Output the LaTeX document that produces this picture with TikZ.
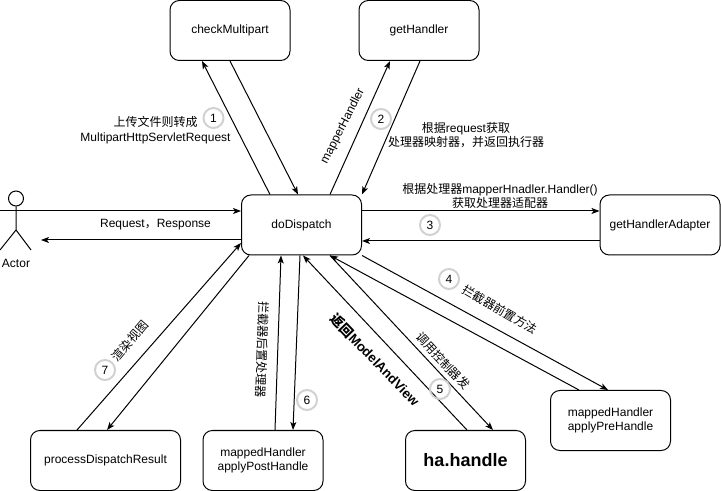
\documentclass[tikz,border=0pt]{standalone}
\usepackage{fontspec}
\setmainfont{Liberation Sans}
\newfontfamily\cjk{Noto Sans CJK SC}
\usetikzlibrary{arrows.meta,calc,positioning}

\begin{document}
\begin{tikzpicture}[x=0.75pt,y=-0.75pt,font=\fontsize{9}{10.8}\selectfont,
    box/.style={draw,line width=0.75pt,rounded corners=7pt,minimum width=90pt,minimum height=45pt,align=center,inner sep=0pt},
    arr/.style={line width=0.75pt,-{Stealth[length=6pt,width=4.5pt,inset=1.5pt]}},
    num/.style={circle,draw=black!18,line width=1.5pt,minimum size=15pt,inner sep=0pt},
    lbl/.style={align=center,inner sep=0pt}]
    \useasboundingbox (0,0) rectangle (721,491);
    \node[box] (check) at (230,30.5) {checkMultipart};
    \node[box] (getH) at (419,30.5) {getHandler};
    \node[box] (disp) at (301.5,225) {doDispatch};
    \node[box] (adapter) at (660,225) {getHandlerAdapter};
    \node[box,minimum width=112.5pt] (pdr) at (105.5,460.5) {processDispatchResult};
    \node[box] (post) at (263,460.5) {mappedHandler\\applyPostHandle};
    \node[box,font=\fontsize{13.5}{16}\selectfont\bfseries] (ha) at (465.5,460.5) {ha.handle};
    \node[box] (pre) at (610.5,420.5) {mappedHandler\\applyPreHandle};
    \coordinate (actor) at (16,211);
    \node[circle,draw,line width=0.75pt,minimum size=11.25pt,inner sep=0pt] (head) at (16,198.5) {};
    \draw[line width=0.75pt] (head.south) -- (16,230) -- (0,250);
    \draw[line width=0.75pt] (16,230) -- (31,250);
    \draw[line width=0.75pt] (1,211) -- (31,211);
    \node[lbl] (actorlbl) at (16,263) {Actor};
    \draw[arr] ($(disp.north)+(-31.5,0)$) -- ($(check.south)+(-28,0)$);
    \draw[arr] (check.south) -- ($(disp.north)+(-3.5,0)$);
    \draw[arr] ($(disp.north)+(28.5,0)$) -- ($(getH.south)+(-29,0)$);
    \draw[arr] ($(getH.south)+(1,0)$) -- (disp.north east);
    \draw[arr] ($(disp.east)+(0,-14)$) -- ($(adapter.west)+(0,-14)$);
    \draw[arr] ($(adapter.west)+(0,16)$) -- ($(disp.east)+(0,16)$);
    \draw[arr] ($(actor)+(-16,0)$) -- ($(disp.west)+(0,-14)$);
    \draw[arr] ($(disp.west)+(0,15)$) -- ($(actor)+(25,29)$);
    \draw[arr] ($(pdr.north)+(-28.5,0)$) -- ($(disp.west)+(0,18)$);
    \draw[arr] ($(disp.south)+(-52.5,0)$) -- ($(pdr.north)+(1.5,0)$);
    \draw[arr] ($(post.north)+(12,0)$) -- ($(disp.south)+(-20.5,0)$);
    \draw[arr] ($(disp.south)+(-1.5,0)$) -- ($(post.north)+(30,0)$);
    \draw[arr] ($(ha.north)+(1.5,0)$) -- ($(disp.south)+(1.5,0)$);
    \draw[arr] ($(disp.south)+(28.5,0)$) -- ($(ha.north)+(27.5,0)$);
    \draw[arr] ($(pre.north)+(-31.5,0)$) -- ($(disp.south)+(28.5,0)$);
    \draw[arr] (disp.south east) -- ($(pre.north)+(-2.5,0)$);
    \node[num] (n1) at (213.5,118) {1};
    \node[num] (n2) at (381,119) {2};
    \node[num] (n3) at (430,225) {3};
    \node[num] (n4) at (449,279) {4};
    \node[num] (n5) at (440,389) {5};
    \node[num] (n6) at (307,400) {6};
    \node[num] (n7) at (105,370) {7};
    \node[lbl] (t1) at (155.5,130) {{\cjk 上传文件则转成}\\MultipartHttpServletRequest};
    \node[lbl,rotate=63] (t2a) at (343,126) {mapperHandler};
    \node[lbl] (t2b) at (466,135) {{\cjk 根据}request{\cjk 获取}\\{\cjk 处理器映射器，并返回执行器}};
    \node[lbl] (t3) at (500,196) {{\cjk 根据处理器}mapperHnadler.Handler()\\{\cjk 获取处理器适配器}};
    \node[lbl] (treq) at (155.5,225) {Request{\cjk ，}Response};
    \node[lbl,rotate=-30] (t4) at (500,310) {\cjk 拦截器前置方法};
    \node[lbl,rotate=-47] (t5) at (443,361) {\cjk 调用控制器发};
    \node[lbl,rotate=-46,font=\fontsize{10}{12}\selectfont\bfseries] (tmv) at (375,360) {{\cjk 返回}ModelAndView};
    \node[lbl,rotate=-92] (t6) at (262,350) {\cjk 拦截器后置处理器};
    \node[lbl,rotate=49] (t7) at (130,341) {\cjk 渲染视图};
\end{tikzpicture}
\end{document}
